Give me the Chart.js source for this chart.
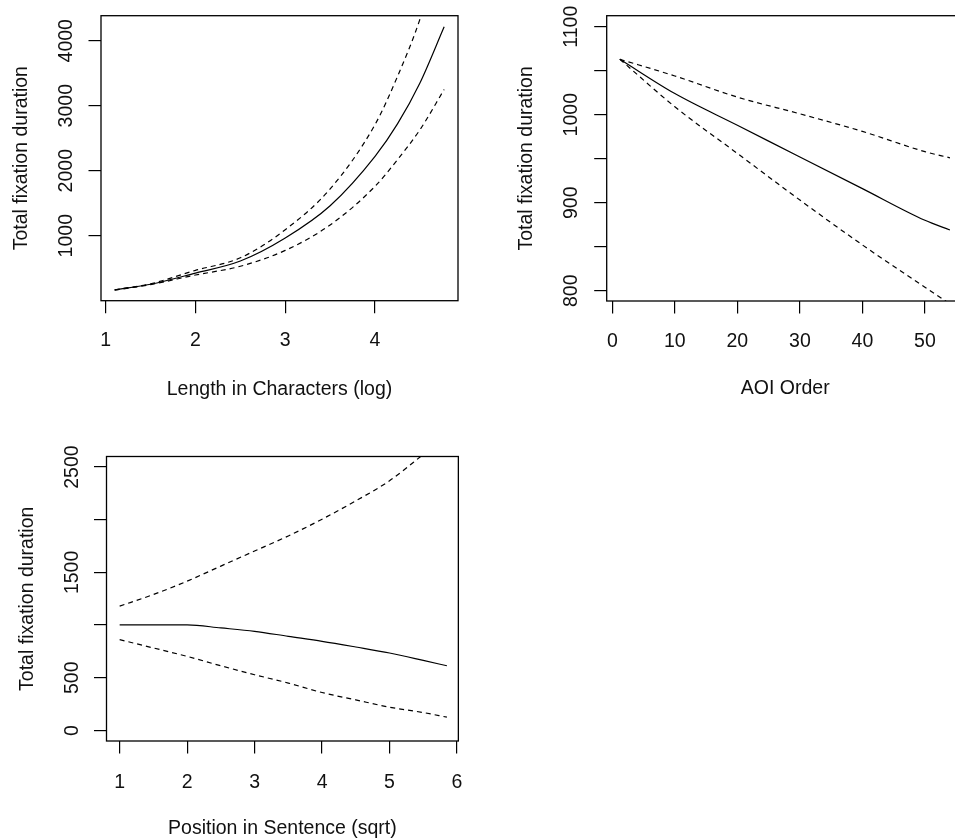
<!DOCTYPE html>
<html>
<head>
<meta charset="utf-8">
<script src="https://cdn.jsdelivr.net/npm/chart.js@4"></script>
<style>
  html, body { margin: 0; padding: 0; background: #fff; overflow: hidden; }
  .page { position: relative; width: 955px; height: 840px; overflow: hidden; }
  canvas { position: absolute; }
</style>
</head>
<body>
<div class="page">
  <canvas id="lenChart" width="480" height="420" style="left:0;top:0;width:480px;height:420px"></canvas>
  <canvas id="aoiChart" width="490" height="420" style="left:480px;top:0;width:490px;height:420px"></canvas>
  <canvas id="posChart" width="480" height="410" style="left:0;top:430px;width:480px;height:410px"></canvas>
</div>
<script>
// panel 1: length in characters (log)
const lenX = [1.1, 1.5, 2.0, 2.5, 3.0, 3.5, 4.0, 4.25, 4.5, 4.77];
const lenFit = [165, 253, 425, 610, 964, 1460, 2220, 2720, 3350, 4215];
const lenUpper = [168, 260, 467, 660, 1092, 1720, 2710, 3450, 4330, 5600];
const lenLower = [162, 248, 395, 530, 774, 1165, 1760, 2170, 2630, 3250];
const lenXTicks = [1, 2, 3, 4];
const lenYTicks = [1000, 2000, 3000, 4000];

// panel 2: AOI order
const aoiX = [1.2, 10, 20, 30, 40, 50, 54];
const aoiFit = [1063, 1024, 988, 952, 916, 880, 869];
const aoiUpper = [1063, 1044, 1020, 1001, 981, 958, 951];
const aoiLower = [1063, 1009, 956, 903, 852, 804, 785];
const aoiXTicks = [0, 10, 20, 30, 40, 50];
const aoiYTicks = [800, 850, 900, 950, 1000, 1050, 1100];
const aoiYLabels = [800, 900, 1000, 1100];

// panel 3: position in sentence (sqrt)
const posX = [1.0, 1.5, 2.0, 2.5, 3.0, 3.5, 4.0, 4.5, 5.0, 5.5, 5.85];
const posFit = [1002, 1002, 1002, 973, 941, 893, 846, 792, 735, 665, 614];
const posUpper = [1180, 1290, 1417, 1560, 1703, 1846, 2005, 2179, 2370, 2620, 2800];
const posLower = [862, 783, 703, 614, 529, 450, 360, 290, 221, 170, 126];
const posXTicks = [1, 2, 3, 4, 5, 6];
const posYTicks = [0, 500, 1000, 1500, 2000, 2500];
const posYLabels = [0, 500, 1500, 2500];

const FONT = { family: "'Liberation Sans', Arial, sans-serif", size: 19.5 };
const INK = "#111";

const plotBox = {
  id: "plotBox",
  afterDatasetsDraw(chart) {
    const { ctx, chartArea: a } = chart;
    ctx.save();
    ctx.strokeStyle = "#000";
    ctx.lineWidth = 1.3;
    ctx.strokeRect(a.left, a.top, a.right - a.left, a.bottom - a.top);
    ctx.restore();
  },
};

const toPoints = (xs, ys) => xs.map((x, i) => ({ x: x, y: ys[i] }));

const curve = (xs, ys, dashed) => ({
  data: toPoints(xs, ys),
  showLine: true,
  borderColor: "#000",
  borderWidth: 1.2,
  borderDash: dashed ? [5, 4] : [],
  pointRadius: 0,
  cubicInterpolationMode: "monotone",
  clip: 0,
});

function drawPanel(id, p) {
  new Chart(document.getElementById(id), {
    type: "scatter",
    data: {
      datasets: [
        curve(p.xs, p.fit, false),
        curve(p.xs, p.upper, true),
        curve(p.xs, p.lower, true),
      ],
    },
    options: {
      responsive: false,
      animation: false,
      events: [],
      layout: { autoPadding: false, padding: p.pad },
      plugins: { legend: { display: false }, tooltip: { enabled: false } },
      scales: {
        x: {
          type: "linear",
          min: p.xRange[0],
          max: p.xRange[1],
          afterBuildTicks: (scale) => {
            scale.ticks = p.xTicks.map((v) => ({ value: v }));
          },
          afterFit: (scale) => {
            scale.height = p.xHeight;
          },
          border: { display: false },
          grid: { drawOnChartArea: false, drawTicks: true, tickLength: 12.5, color: "#000", lineWidth: 1.2 },
          ticks: {
            autoSkip: false,
            maxRotation: 0,
            padding: p.xTickPad,
            color: INK,
            font: FONT,
          },
          title: {
            display: true,
            text: p.xTitle,
            color: INK,
            font: FONT,
            padding: { top: 0, bottom: p.xTitlePad },
          },
        },
        y: {
          type: "linear",
          min: p.yRange[0],
          max: p.yRange[1],
          afterBuildTicks: (scale) => {
            scale.ticks = p.yTicks.map((v) => ({ value: v }));
          },
          afterFit: (scale) => {
            scale.width = p.yWidth;
          },
          border: { display: false },
          grid: { drawOnChartArea: false, drawTicks: true, tickLength: 12.5, color: "#000", lineWidth: 1.2 },
          ticks: {
            autoSkip: false,
            minRotation: 90,
            maxRotation: 90,
            crossAlign: "center",
            padding: p.yTickPad,
            color: INK,
            font: FONT,
            callback: (value) => (p.yLabels.includes(value) ? String(value) : ""),
          },
          title: {
            display: true,
            text: "Total fixation duration",
            color: INK,
            font: FONT,
            padding: { top: p.yTitlePad, bottom: 0 },
          },
        },
      },
    },
    plugins: [plotBox],
  });
}

drawPanel("lenChart", {
  xs: lenX, fit: lenFit, upper: lenUpper, lower: lenLower,
  xRange: [0.948, 4.924], yRange: [0, 4385],
  xTicks: lenXTicks, yTicks: lenYTicks, yLabels: lenYTicks,
  xTitle: "Length in Characters (log)",
  pad: { left: 0, top: 15.7, right: 22, bottom: 0 },
  yWidth: 101, xHeight: 119.3,
  xTickPad: 16.2, yTickPad: 0, xTitlePad: 19, yTitlePad: 10,
});

drawPanel("aoiChart", {
  xs: aoiX, fit: aoiFit, upper: aoiUpper, lower: aoiLower,
  xRange: [-0.9, 56.2], yRange: [788.3, 1112.5],
  xTicks: aoiXTicks, yTicks: aoiYTicks, yLabels: aoiYLabels,
  xTitle: "AOI Order",
  pad: { left: 0, top: 15.7, right: 6.3, bottom: 0 },
  yWidth: 126.7, xHeight: 119,
  xTickPad: 16, yTickPad: 0.6, xTitlePad: 19.5, yTitlePad: 34.5,
});

drawPanel("posChart", {
  xs: posX, fit: posFit, upper: posUpper, lower: posLower,
  xRange: [0.805, 6.02], yRange: [-100, 2600],
  xTicks: posXTicks, yTicks: posYTicks, yLabels: posYLabels,
  xTitle: "Position in Sentence (sqrt)",
  pad: { left: 0, top: 26.5, right: 18, bottom: 0 },
  yWidth: 106.5, xHeight: 99,
  xTickPad: 17.5, yTickPad: 0, xTitlePad: 0, yTitlePad: 15.5,
});
</script>
</body>
</html>
